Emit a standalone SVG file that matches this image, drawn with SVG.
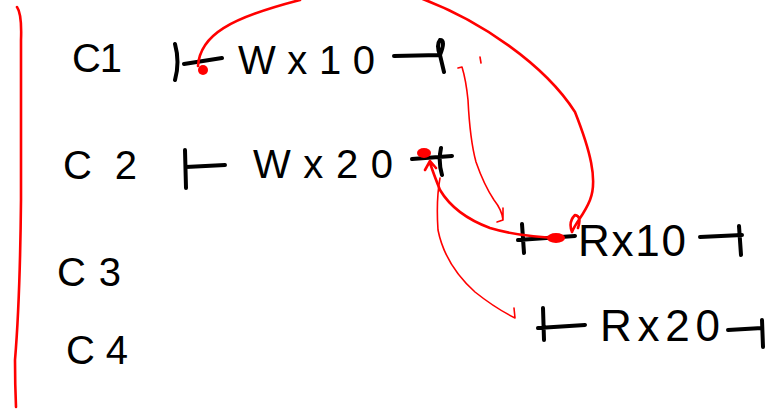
<svg xmlns="http://www.w3.org/2000/svg" width="782" height="409" viewBox="0 0 782 409">
<style>
.t{font-family:"Liberation Sans",Arial,sans-serif;font-size:40px;fill:#000}
.big{font-size:44px}
.bar{stroke:#000;stroke-width:4;stroke-linecap:round;fill:none}
.r{stroke:#f00;stroke-width:2.6;fill:none;stroke-linecap:round;stroke-linejoin:round}
.rt{stroke:#f00;stroke-width:1.6;fill:none;stroke-linecap:round;stroke-linejoin:round}
.dot{fill:#f00}
</style>
<rect width="782" height="409" fill="#fff"/>
<path class="r" d="M17 7 Q22 14 21 40 L21 200 Q20 300 15 360 Q15 385 16 407"/>
<g id="c1"><text class="t" x="72" y="72" textLength="50" lengthAdjust="spacing">C1</text></g>
<g id="c2"><text class="t" x="63" y="179" textLength="74" lengthAdjust="spacing">C2</text></g>
<g id="c3"><text class="t" x="57" y="286" textLength="64" lengthAdjust="spacing">C3</text></g>
<g id="c4"><text class="t" x="66" y="364" textLength="62" lengthAdjust="spacing">C4</text></g>
<g id="w10">
<path class="bar" d="M175 44 Q180 62 175 80 M184 64 L222 58 M394 56 L440 55 M440 55 Q446 40 440 40 Q436 45 440 55 L444 72"/>
<text class="t" x="238" y="74" textLength="137" lengthAdjust="spacing">Wx10</text>
</g>
<g id="w20">
<path class="bar" d="M185 150 L186 188 M186 167 L225 165 M412 159 L452 156 M441 148 Q438 162 442 175"/>
<text class="t" x="253" y="178" textLength="140" lengthAdjust="spacing">Wx20</text>
</g>
<g id="r10">
<path class="bar" d="M522 224 L524 253 M518 240 L575 236 M700 237 L742 235 M739 226 L741 255"/>
<text class="t big" x="578" y="256" textLength="108" lengthAdjust="spacing">Rx10</text>
</g>
<g id="r20">
<path class="bar" d="M543 308 L544 340 M538 328 L585 325 M728 330 L762 328 M762 320 L763 347"/>
<text class="t big" x="600" y="341" textLength="120" lengthAdjust="spacing">Rx20</text>
</g>
<g id="connectors">
<path class="r" d="M198 66 C200 35 230 18 300 0 M420 -2 C480 20 545 65 575 112 C590 150 598 180 590 200 C584 215 576 222 572 232 M572 232 Q568 222 575 215 Q582 216 578 228"/>
<circle class="dot" cx="203" cy="70" r="5"/>
<path class="rt" d="M458 68 L462 67 Q466 80 468 100 Q470 140 476 162 Q484 185 494 200 Q502 210 503 220 L497 222 M503 220 L503 208"/>
<path class="rt" d="M480 57 L481 63"/>
<path class="r" d="M562 238 Q520 237 490 228 Q455 215 440 190 Q434 175 430 163 M425 170 L430 161 L436 168"/>
<ellipse class="dot" cx="424" cy="153" rx="7" ry="5"/>
<ellipse class="dot" cx="556" cy="238" rx="9" ry="5"/>
<path class="rt" d="M440 178 Q436 200 438 230 Q445 265 475 292 Q495 308 515 318 M515 318 L514 308"/>
</g>
</svg>
